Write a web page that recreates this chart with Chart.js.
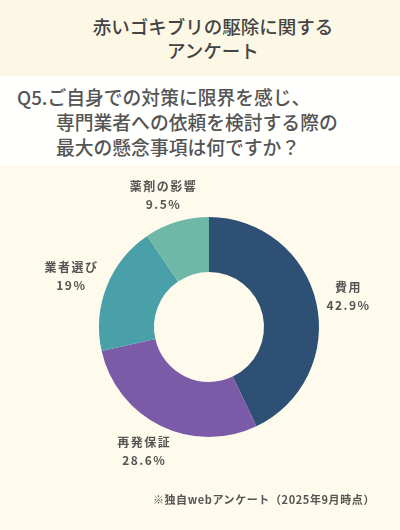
<!DOCTYPE html>
<html><head><meta charset="utf-8">
<script src="https://cdn.jsdelivr.net/npm/chart.js@4.4.0/dist/chart.umd.min.js"></script>
<style>
html,body{margin:0;padding:0;}
body{width:400px;height:530px;background:#fefbec;position:relative;overflow:hidden;font-family:"Noto Sans CJK JP","Noto Sans",sans-serif;}
#title{position:absolute;left:0;top:0;width:400px;height:76px;background:#fdf8e6;}
#title div{position:absolute;left:13px;width:400px;text-align:center;font-size:18.5px;font-weight:500;color:#444;line-height:23px;}
#band{position:absolute;left:0;top:76px;width:400px;height:89px;background:#fffffe;}
.q{position:absolute;font-size:18.8px;font-weight:500;color:#555;line-height:25px;white-space:nowrap;}
#foot{position:absolute;right:25px;top:491px;font-size:11px;font-weight:700;color:#555;letter-spacing:0.6px;white-space:nowrap;}
#wrap{position:absolute;left:0;top:160px;width:400px;height:340px;}
</style></head>
<body>
<div id="title"><div style="top:15px">赤いゴキブリの駆除に関する</div><div style="top:39px">アンケート</div></div>
<div id="band"></div>
<div class="q" style="left:17px;top:84px">Q5.ご自身での対策に限界を感じ、</div>
<div class="q" style="left:56px;top:109px">専門業者への依頼を検討する際の</div>
<div class="q" style="left:56px;top:134px">最大の懸念事項は何ですか？</div>
<div id="wrap"><canvas id="c"></canvas></div>
<div id="foot">※独自webアンケート（2025年9月時点）</div>
<script>
const categories = ["費用", "再発保証", "業者選び", "薬剤の影響"];
const values = [42.9, 28.6, 19, 9.5];
const valueLabels = ["42.9%", "28.6%", "19%", "9.5%"];
const colors = ["#2d5074", "#7b5aa8", "#4aa0a8", "#6fb8a8"];

const labelPlugin = {
  id: 'outLabels',
  afterDatasetsDraw(chart) {
    const ctx = chart.ctx;
    const meta = chart.getDatasetMeta(0);
    ctx.save();
    ctx.fillStyle = '#555';
    ctx.textAlign = 'center';
    ctx.textBaseline = 'middle';
    ctx.font = '700 12px "Noto Sans CJK JP", "Noto Sans", sans-serif';
    try { ctx.letterSpacing = '1.5px'; } catch(e) {}
    meta.data.forEach((arc, i) => {
      const p = arc.getProps(['x','y','startAngle','endAngle','outerRadius'], true);
      const mid = (p.startAngle + p.endAngle) / 2;
      const dx = Math.cos(mid), dy = Math.sin(mid);
      const w1 = ctx.measureText(categories[i]).width;
      const w2 = ctx.measureText(valueLabels[i]).width;
      const w = Math.max(w1, w2), h = 34;
      const r = p.outerRadius + 11;
      const cx = p.x + dx * r + dx * w / 2;
      const cy = p.y + dy * r + dy * h / 2;
      ctx.fillText(categories[i], cx, cy - 9);
      ctx.fillText(valueLabels[i], cx, cy + 9);
    });
    ctx.restore();
  }
};

new Chart(document.getElementById('c'), {
  type: 'doughnut',
  data: {
    labels: categories,
    datasets: [{ data: values, backgroundColor: colors, borderWidth: 0 }]
  },
  options: {
    responsive: true,
    maintainAspectRatio: false,
    animation: false,
    cutout: '50%',
    layout: { padding: { left: 99, right: 81, top: 57, bottom: 63 } },
    plugins: { legend: { display: false }, tooltip: { enabled: false } }
  },
  plugins: [labelPlugin]
});
</script>
</body></html>
